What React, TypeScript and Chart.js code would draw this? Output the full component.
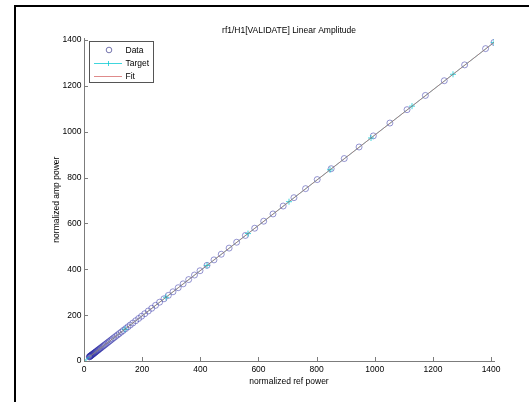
import React, { useEffect, useRef } from "react";
import { Chart, registerables } from "chart.js";

Chart.register(...registerables);

const titleText = "rf1/H1[VALIDATE] Linear Amplitude";
const xTitle = "normalized ref power";
const yTitle = "normalized amp power";
const legendLabels = ["Data", "Target", "Fit"];
const xTicks = [0, 200, 400, 600, 800, 1000, 1200, 1400];
const yTicks = [0, 200, 400, 600, 800, 1000, 1200, 1400];

const dataX = [
  18.1, 19.1, 20.2, 21.3, 22.5, 23.8, 25.1, 26.5, 28.0, 29.6, 31.2, 33.0, 34.8, 36.7, 38.8, 40.9,
  43.2, 45.6, 48.2, 50.9, 53.7, 56.7, 59.9, 63.2, 66.8, 70.5, 74.4, 78.6, 83.0, 87.6, 92.5, 97.6,
  103, 109, 115, 121, 128, 135, 143, 151, 159, 168, 178, 188, 198, 209, 221, 233, 246, 260, 275,
  290, 306, 324, 341, 360, 380, 399, 423, 447, 472, 499, 525, 555, 587, 618, 650, 685, 722, 762,
  802, 850, 895, 946, 995, 1052, 1111, 1174, 1239, 1309, 1381, 1410,
];
const dataY = [
  17.9, 18.9, 19.9, 21.0, 22.2, 23.5, 24.8, 26.2, 27.6, 29.2, 30.8, 32.6, 34.3, 36.2, 38.3, 40.4,
  42.6, 45.0, 47.6, 50.2, 53.0, 56.0, 59.1, 62.4, 65.9, 69.6, 73.4, 77.6, 81.9, 86.5, 91.3, 96.3,
  101.7, 107.6, 113.5, 119.4, 126.3, 133.2, 141.1, 149, 157, 165.8, 175.7, 185.6, 195.4, 206.3,
  218.1, 230, 242.8, 256.6, 271.4, 286.2, 302, 319.8, 336.6, 355.3, 375.1, 393.8, 417.5, 441.2,
  465.9, 492.5, 518.2, 547.8, 579.4, 610, 641.6, 676.1, 712.6, 752.1, 791.6, 839, 883.4, 933.7,
  982.1, 1038.3, 1096.6, 1158.7, 1222.9, 1292, 1363, 1390,
];
const targetX = [0, 141, 282, 423, 564, 705, 846, 987, 1128, 1269, 1410];
const targetY = [0, 139, 278, 417, 556, 695, 834, 973, 1112, 1251, 1390];
const fitX = [18.1, 1410];
const fitY = [17.9, 1390];

const FONT = "'Liberation Sans', Arial, sans-serif";
const AXIS = "#7c7c7c";
const DATA_COLOR = "rgba(45,45,165,0.5)";
const TARGET_COLOR = "rgba(0,200,210,0.75)";
const FIT_COLOR = "rgba(210,90,90,0.7)";

const pts = (xs: number[], ys: number[]) => xs.map((x, i) => ({ x, y: ys[i] }));

const decor = {
  id: "decor",
  afterDatasetsDraw(chart: any) {
    const ctx = chart.ctx;
    const xs = chart.scales.x;
    const ys = chart.scales.y;
    const area = chart.chartArea;
    ctx.save();
    ctx.strokeStyle = AXIS;
    ctx.lineWidth = 1;
    ctx.beginPath();
    xs.ticks.forEach((t: any) => {
      const p = Math.round(xs.getPixelForValue(t.value)) + 0.5;
      ctx.moveTo(p, area.bottom);
      ctx.lineTo(p, area.bottom - 4);
    });
    ys.ticks.forEach((t: any) => {
      const p = Math.round(ys.getPixelForValue(t.value)) + 0.5;
      ctx.moveTo(area.left, p);
      ctx.lineTo(area.left + 4, p);
    });
    ctx.stroke();
    ctx.restore();
  },
  afterDraw(chart: any) {
    const ctx = chart.ctx;
    ctx.save();
    ctx.fillStyle = "#000";
    ctx.fillRect(14, 5, 2, 402);
    ctx.fillRect(14, 5, 529, 2);
    const bx = 89.5, by = 41.5, bw = 64, bh = 41;
    ctx.fillStyle = "#fff";
    ctx.fillRect(bx, by, bw, bh);
    ctx.strokeStyle = "#555";
    ctx.lineWidth = 1;
    ctx.strokeRect(bx, by, bw, bh);
    const rows = [51, 63.5, 76.5];
    ctx.font = `8.5px ${FONT}`;
    ctx.fillStyle = "#000";
    ctx.textBaseline = "middle";
    ctx.textAlign = "left";
    legendLabels.forEach((l, i) => ctx.fillText(l, 125.5, rows[i]));
    ctx.strokeStyle = "rgba(60,60,140,0.7)";
    ctx.beginPath();
    ctx.arc(109, rows[0] - 1, 2.8, 0, Math.PI * 2);
    ctx.stroke();
    ctx.strokeStyle = TARGET_COLOR;
    ctx.beginPath();
    ctx.moveTo(94, rows[1]);
    ctx.lineTo(122, rows[1]);
    ctx.moveTo(108.5, rows[1] - 2.5);
    ctx.lineTo(108.5, rows[1] + 2.5);
    ctx.stroke();
    ctx.strokeStyle = FIT_COLOR;
    ctx.beginPath();
    ctx.moveTo(94, rows[2]);
    ctx.lineTo(122, rows[2]);
    ctx.stroke();
    ctx.restore();
  },
};

export default function App() {
  const ref = useRef<HTMLCanvasElement>(null);
  useEffect(() => {
    if (!ref.current) return;
    const chart = new Chart(ref.current, {
      type: "scatter",
      data: {
        datasets: [
          {
            label: "Fit",
            data: pts(fitX, fitY),
            showLine: true,
            borderColor: FIT_COLOR,
            borderWidth: 1,
            pointRadius: 0,
            order: 1,
          },
          {
            label: "Target",
            data: pts(targetX, targetY),
            showLine: true,
            borderColor: TARGET_COLOR,
            borderWidth: 1,
            pointStyle: "cross",
            pointRadius: 3,
            pointBorderColor: TARGET_COLOR,
            pointBorderWidth: 1,
            order: 2,
          },
          {
            label: "Data",
            data: pts(dataX, dataY),
            showLine: false,
            pointStyle: "circle",
            pointRadius: 3,
            pointBorderColor: DATA_COLOR,
            pointBackgroundColor: "rgba(0,0,0,0)",
            pointBorderWidth: 1,
            order: 3,
          },
        ],
      },
      options: {
        responsive: false,
        animation: false,
        devicePixelRatio: 1,
        layout: { padding: { top: 0, left: 0, right: 35, bottom: 0 } },
        plugins: {
          legend: { display: false },
          tooltip: { enabled: false },
          title: {
            display: true,
            text: titleText,
            fullSize: false,
            color: "#000",
            font: { family: FONT, size: 8.5, weight: "normal" },
            padding: { top: 25.5, bottom: 2.6 },
          },
        },
        scales: {
          x: {
            type: "linear",
            min: 0,
            max: 1410,
            grid: { display: false, drawTicks: false },
            border: { display: true, color: AXIS, width: 1 },
            afterBuildTicks: (s: any) => {
              s.ticks = xTicks.map((v) => ({ value: v }));
            },
            ticks: {
              color: "#000",
              padding: 4,
              maxRotation: 0,
              autoSkip: false,
              font: { family: FONT, size: 8.5 },
              callback: (v: any) => String(v),
            },
            title: {
              display: true,
              text: xTitle,
              color: "#000",
              font: { family: FONT, size: 8.5 },
              padding: { top: 0, bottom: 15.2 },
            },
            afterFit: (s: any) => {
              s.height = 41;
            },
          },
          y: {
            type: "linear",
            min: 0,
            max: 1408,
            grid: { display: false, drawTicks: false },
            border: { display: true, color: AXIS, width: 1 },
            afterBuildTicks: (s: any) => {
              s.ticks = yTicks.map((v) => ({ value: v }));
            },
            ticks: {
              color: "#000",
              padding: 2.5,
              autoSkip: false,
              font: { family: FONT, size: 8.5 },
              callback: (v: any) => String(v),
            },
            title: {
              display: true,
              text: yTitle,
              color: "#000",
              font: { family: FONT, size: 8.5 },
              padding: { top: 51.6, bottom: 0 },
            },
            afterFit: (s: any) => {
              s.width = 84;
            },
          },
        },
      },
      plugins: [decor],
    });
    return () => chart.destroy();
  }, []);
  return (
    <div style={{ position: "absolute", left: 0, top: 0, width: 529, height: 402, background: "#fff" }}>
      <canvas ref={ref} width={529} height={402} style={{ width: 529, height: 402, display: "block" }} />
    </div>
  );
}
